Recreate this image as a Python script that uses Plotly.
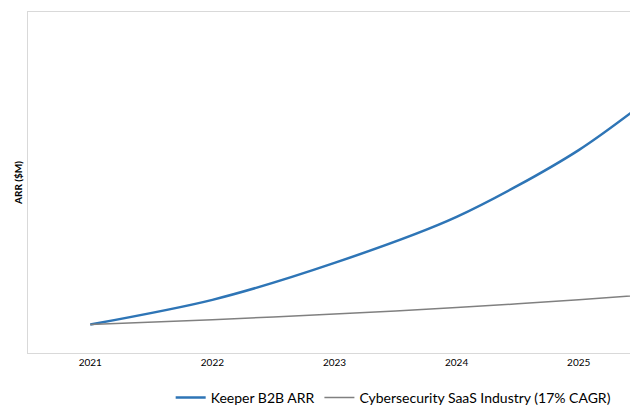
import plotly.graph_objects as go

years = [2021, 2022, 2023, 2024, 2025, 2026]
keeper_arr = [10.0, 18.7, 31.7, 47.9, 71.4, 103.5]
industry_arr = [10.0, 11.7, 13.7, 16.0, 18.7, 21.9]
tick_years = [2021, 2022, 2023, 2024, 2025]
series_names = ["Keeper B2B ARR", "Cybersecurity SaaS Industry (17% CAGR)"]

fig = go.Figure()
fig.add_trace(go.Scatter(
    x=years, y=keeper_arr, mode="lines", name=series_names[0],
    line=dict(color="#2E75B6", width=2.5, shape="spline", smoothing=0.8),
))
fig.add_trace(go.Scatter(
    x=years, y=industry_arr, mode="lines", name=series_names[1],
    line=dict(color="#808080", width=1.5, shape="spline", smoothing=0.8),
))

fig.update_layout(
    width=630, height=412,
    margin=dict(l=28, r=0, t=12, b=59, autoexpand=False),
    paper_bgcolor="white", plot_bgcolor="white",
    font=dict(family="Lato, 'Open Sans', sans-serif", color="#000000"),
    showlegend=True,
    legend=dict(
        orientation="h", x=0.237, xanchor="left", y=-0.085, yanchor="top",
        font=dict(size=14, color="#000000"), bgcolor="rgba(0,0,0,0)",
        itemwidth=30, tracegroupgap=0,
    ),
    xaxis=dict(
        range=[2020.49, 2025.42], tickvals=tick_years,
        ticktext=[str(y) for y in tick_years],
        showgrid=False, zeroline=False,
        showline=True, linecolor="#D9D9D9", linewidth=1, mirror=True,
        ticks="", tickfont=dict(size=10, color="#000000"),
    ),
    yaxis=dict(
        range=[0, 120], showticklabels=False, showgrid=False, zeroline=False,
        showline=True, linecolor="#D9D9D9", linewidth=1, ticks="",
        title=dict(text="<b>ARR ($M)</b>", font=dict(size=10, color="#000000"), standoff=2),
    ),
)

fig.write_html("out.html")
